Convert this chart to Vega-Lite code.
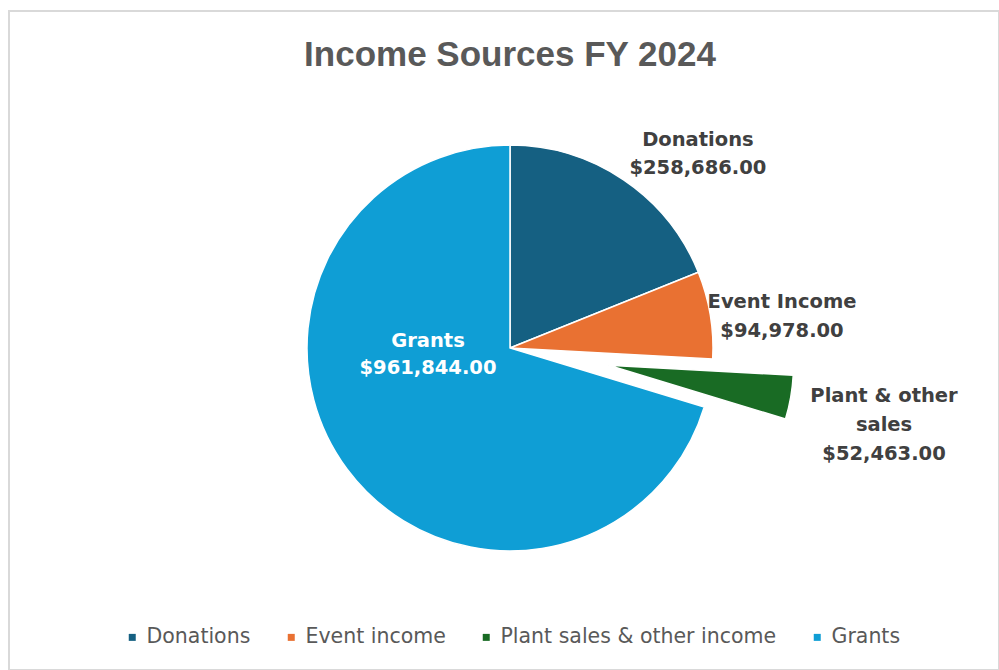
{
  "$schema": "https://vega.github.io/schema/vega-lite/v6.json",
  "autosize": {"type": "none"},
  "padding": {"left": 9, "top": 11, "right": 0, "bottom": 0},
  "width": 990,
  "height": 659,
  "background": "white",
  "view": {"style": "cell", "stroke": "#d9d9d9", "strokeWidth": 2},
  "config": {
    "view": {"stroke": "#d9d9d9", "strokeWidth": 2},
    "font": "DejaVu Sans"
  },
  "title": {
    "text": "Income Sources FY 2024",
    "anchor": "middle",
    "frame": "group",
    "offset": -55,
    "baseline": "alphabetic",
    "dx": 6,
    "dy": 42,
    "font": "Liberation Sans",
    "fontSize": 35,
    "fontWeight": "bold",
    "color": "#595959"
  },
  "data": {
    "values": [
      {"category": "Donations", "lbl": "Donations", "value": 258686, "rank": 1},
      {"category": "Event income", "lbl": "Event Income", "value": 94978, "rank": 2},
      {"category": "Plant sales & other income", "lbl": "Plant & other\nsales", "value": 52463, "rank": 3},
      {"category": "Grants", "lbl": "Grants", "value": 961844, "rank": 4}
    ]
  },
  "encoding": {
    "theta": {"field": "value", "type": "quantitative", "stack": true},
    "order": {"field": "rank", "type": "quantitative"}
  },
  "layer": [
    {
      "mark": {"type": "arc", "radius": 203, "xOffset": 6, "yOffset": 7.5, "stroke": "white", "strokeWidth": 1.5},
      "encoding": {
        "color": {
          "field": "category",
          "type": "nominal",
          "scale": {
            "domain": ["Donations", "Event income", "Plant sales & other income", "Grants"],
            "range": ["#156082", "#E97132", "#196B24", "#0F9ED5"]
          },
          "legend": {
            "title": null,
            "orient": "none",
            "legendX": 113,
            "legendY": 616,
            "direction": "horizontal",
            "columns": 4,
            "columnPadding": 30,
            "padding": 0,
            "symbolType": "square",
            "symbolSize": 49,
            "symbolStrokeWidth": 0,
            "symbolOpacity": 1,
            "labelFont": "DejaVu Sans",
            "labelFontSize": 20.5,
            "labelColor": "#595959",
            "labelOffset": 4,
            "labelLimit": 400
          }
        },
        "opacity": {"condition": {"test": "datum.category === 'Plant sales & other income'", "value": 0}, "value": 1}
      }
    },
    {
      "mark": {"type": "arc", "radius": 185, "xOffset": 104.5, "yOffset": 24.8, "stroke": "white", "strokeWidth": 1.5},
      "encoding": {
        "color": {"field": "category", "type": "nominal"},
        "opacity": {"condition": {"test": "datum.category === 'Plant sales & other income'", "value": 1}, "value": 0}
      }
    },
    {
      "mark": {"type": "text", "radius": 266, "dx": 39, "dy": 12.4, "xOffset": 6, "yOffset": 7.5, "font": "DejaVu Sans", "fontWeight": "bold", "fontSize": 19.5, "fill": "#404040", "align": "center", "baseline": "middle"},
      "encoding": {"text": {"condition": {"test": "datum.category === 'Donations'", "field": "lbl", "type": "nominal"}, "value": ""}}
    },
    {
      "mark": {"type": "text", "radius": 266, "dx": 39, "dy": 40.4, "xOffset": 6, "yOffset": 7.5, "font": "DejaVu Sans", "fontWeight": "bold", "fontSize": 19.5, "fill": "#404040", "align": "center", "baseline": "middle"},
      "encoding": {"text": {"condition": {"test": "datum.category === 'Donations'", "field": "value", "type": "quantitative", "format": "$,.2f"}, "value": ""}}
    },
    {
      "mark": {"type": "text", "radius": 273.5, "dx": 2.2, "dy": -1.2, "xOffset": 6, "yOffset": 7.5, "font": "DejaVu Sans", "fontWeight": "bold", "fontSize": 19.5, "fill": "#404040", "align": "center", "baseline": "middle"},
      "encoding": {"text": {"condition": {"test": "datum.category === 'Event income'", "field": "lbl", "type": "nominal"}, "value": ""}}
    },
    {
      "mark": {"type": "text", "radius": 273.5, "dx": 2.2, "dy": 27.8, "xOffset": 6, "yOffset": 7.5, "font": "DejaVu Sans", "fontWeight": "bold", "fontSize": 19.5, "fill": "#404040", "align": "center", "baseline": "middle"},
      "encoding": {"text": {"condition": {"test": "datum.category === 'Event income'", "field": "value", "type": "quantitative", "format": "$,.2f"}, "value": ""}}
    },
    {
      "mark": {"type": "text", "radius": 381.7, "dx": -1.9, "dy": -18.1, "xOffset": 6, "yOffset": 7.5, "font": "DejaVu Sans", "fontWeight": "bold", "fontSize": 19.5, "fill": "#404040", "align": "center", "baseline": "middle", "lineBreak": "\n", "lineHeight": 29},
      "encoding": {"text": {"condition": {"test": "datum.category === 'Plant sales & other income'", "field": "lbl", "type": "nominal"}, "value": ""}}
    },
    {
      "mark": {"type": "text", "radius": 381.7, "dx": -1.9, "dy": 39.6, "xOffset": 6, "yOffset": 7.5, "font": "DejaVu Sans", "fontWeight": "bold", "fontSize": 19.5, "fill": "#404040", "align": "center", "baseline": "middle"},
      "encoding": {"text": {"condition": {"test": "datum.category === 'Plant sales & other income'", "field": "value", "type": "quantitative", "format": "$,.2f"}, "value": ""}}
    },
    {
      "mark": {"type": "text", "radius": 62, "dx": -32.2, "dy": -44.2, "xOffset": 6, "yOffset": 7.5, "font": "DejaVu Sans", "fontWeight": "bold", "fontSize": 19.5, "fill": "white", "align": "center", "baseline": "middle"},
      "encoding": {"text": {"condition": {"test": "datum.category === 'Grants'", "field": "lbl", "type": "nominal"}, "value": ""}}
    },
    {
      "mark": {"type": "text", "radius": 62, "dx": -32.2, "dy": -16.6, "xOffset": 6, "yOffset": 7.5, "font": "DejaVu Sans", "fontWeight": "bold", "fontSize": 19.5, "fill": "white", "align": "center", "baseline": "middle"},
      "encoding": {"text": {"condition": {"test": "datum.category === 'Grants'", "field": "value", "type": "quantitative", "format": "$,.2f"}, "value": ""}}
    }
  ]
}
